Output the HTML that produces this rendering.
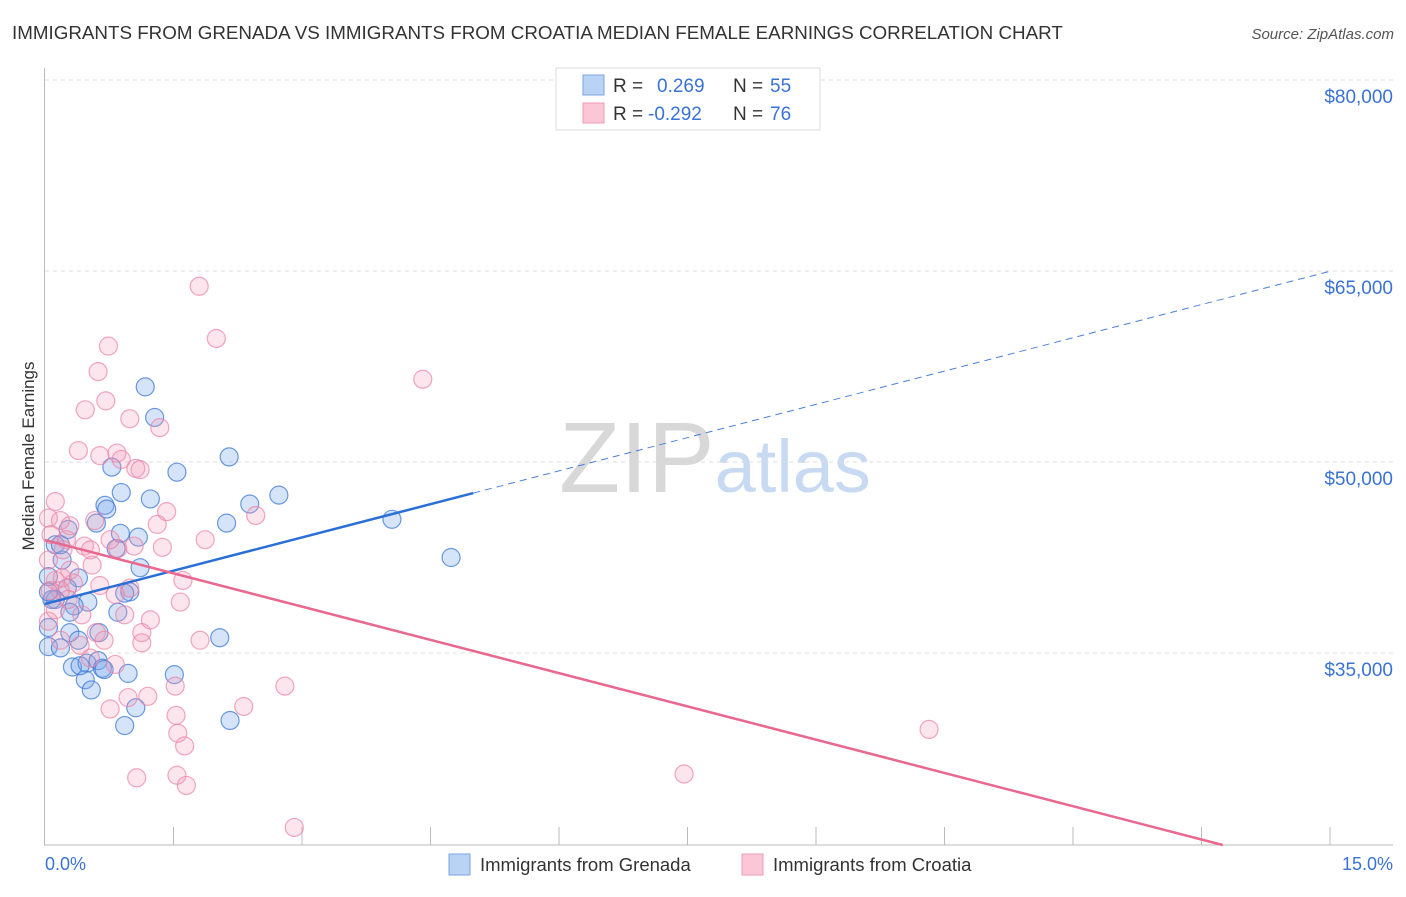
<!DOCTYPE html>
<html><head><meta charset="utf-8"><style>
body{margin:0;background:#fff;font-family:"Liberation Sans",sans-serif}
svg text{font-family:"Liberation Sans",sans-serif}
</style></head><body>
<svg id="chart" width="1406" height="892" xmlns="http://www.w3.org/2000/svg">
<text x="12" y="39" font-size="18.8" fill="#333">IMMIGRANTS FROM GRENADA VS IMMIGRANTS FROM CROATIA MEDIAN FEMALE EARNINGS CORRELATION CHART</text>
<text x="1394" y="39" font-size="15" fill="#555" font-style="italic" text-anchor="end">Source: ZipAtlas.com</text>
<text x="715" y="492" font-size="100" fill="#ddd" text-anchor="middle" font-family="Liberation Serif"><tspan fill="#d8d8d8">ZIP</tspan><tspan fill="#c8daf2" font-family="Liberation Sans" font-size="74">atlas</tspan></text>
<text transform="translate(34,456) rotate(-90)" font-size="17" fill="#333" text-anchor="middle">Median Female Earnings</text>
<g id="grid"></g><g id="axes"></g><g id="pts"></g><g id="trend"></g>
<g>
<rect x="556" y="68" width="264" height="62" fill="#fff" stroke="#ddd"/>
<rect x="583" y="75" width="21" height="20" fill="#b9d3f5" stroke="#7aa5e0"/>
<rect x="583" y="103" width="21" height="20" fill="#fbc6d6" stroke="#ee9bb5"/>
<text x="613" y="92" font-size="19" fill="#333">R = </text><text x="657" y="92" font-size="19" fill="#3a72d6">0.269</text>
<text x="733" y="92" font-size="19" fill="#333">N = </text><text x="770" y="92" font-size="19" fill="#3a72d6">55</text>
<text x="613" y="120" font-size="19" fill="#333">R = </text><text x="648" y="120" font-size="19" fill="#3a72d6">-0.292</text>
<text x="733" y="120" font-size="19" fill="#333">N = </text><text x="770" y="120" font-size="19" fill="#3a72d6">76</text>
</g>
<g>
<rect x="449" y="854" width="21" height="21" fill="#b9d3f5" stroke="#7aa5e0"/>
<text x="480" y="871" font-size="18.5" fill="#333">Immigrants from Grenada</text>
<rect x="742" y="854" width="21" height="21" fill="#fbc6d6" stroke="#ee9bb5"/>
<text x="773" y="871" font-size="18.5" fill="#333">Immigrants from Croatia</text>
</g>
</svg>
<script>
const blueX=[1.17,1.28,1.54,2.15,0.78,0.89,1.23,0.70,0.72,0.60,2.39,2.73,2.12,4.05,4.74,0.88,1.09,0.83,0.27,0.12,0.20,1.11,0.39,0.04,0.26,0.99,0.93,0.12,0.50,0.34,0.85,0.29,0.04,0.29,0.63,0.39,2.04,0.04,0.18,0.32,0.49,0.62,0.67,0.69,0.97,0.47,0.54,1.51,1.06,0.93,2.16,0.18,0.08,0.04,0.41];
const blueY=[55900,53500,49200,50400,49600,47600,47100,46600,46300,45200,46700,47400,45200,45500,42500,44400,44100,43200,44700,43500,42300,41700,40900,41000,40100,39800,39700,39200,39000,38700,38200,38200,37000,36600,36600,36000,36200,35500,35400,33900,34200,34400,33800,33700,33400,32900,32100,33300,30700,29300,29700,43500,39200,39800,34000];
const pinkX=[1.80,2.00,0.74,4.41,0.62,0.47,0.71,0.99,1.34,0.39,0.64,0.84,0.89,1.06,1.11,0.12,1.42,2.46,0.04,0.18,0.29,0.58,1.31,0.07,0.25,0.46,0.21,1.87,0.85,1.37,1.04,0.53,0.04,0.55,0.12,0.33,1.61,0.64,0.99,0.18,0.82,1.58,0.43,0.93,0.04,0.60,1.13,1.13,0.41,1.81,0.69,0.20,0.27,0.06,2.80,0.97,1.20,1.52,2.32,0.76,1.53,1.55,1.63,10.32,7.46,1.54,1.07,1.65,2.91,0.53,0.29,0.12,0.18,0.82,1.23,0.76];
const pinkY=[63800,59700,59100,56500,57100,54100,54800,53400,52700,50900,50500,50700,50200,49500,49400,46900,46100,45800,45600,45400,45000,45400,45100,44300,43900,43400,43100,43900,43200,43300,43400,43100,42300,41900,40700,40500,40700,40300,40100,39900,39600,39000,38000,38000,37500,36600,36600,35800,35600,36000,36000,40900,39200,39900,32400,31500,31600,32400,30800,30600,30100,28700,27700,29000,25500,25400,25200,24600,21300,34600,41500,38400,36000,34100,37600,43900];
const yTicks=[35000,50000,65000,80000];
const yTickLabels=["$35,000","$50,000","$65,000","$80,000"];
const xTicks=[0,1.5,3,4.5,6,7.5,9,10.5,12,13.5,15];
const blueTrend=[38850,1742];   // intercept, slope per %
const pinkTrend=[43870,-1742];
const NS="http://www.w3.org/2000/svg";
const xs=v=>45+v*(1285/15);
const ys=v=>653-(v-35000)*(191/15000);
const yBottom=845, yMinVal=35000-(yBottom-653)*15000/191;
function mk(tag,attrs,parent){const e=document.createElementNS(NS,tag);for(const k in attrs)e.setAttribute(k,attrs[k]);parent.appendChild(e);return e;}
const grid=document.getElementById('grid'),axes=document.getElementById('axes'),pts=document.getElementById('pts'),trend=document.getElementById('trend');
yTicks.forEach((t,i)=>{
 const l=mk('line',{x1:45,x2:1393,y1:ys(t),y2:ys(t),stroke:'#ddd','stroke-dasharray':'4,4'},grid);
 
 
 const tx=mk('text',{x:1393,y:ys(t)+23,'font-size':19,fill:'#3a72d6','text-anchor':'end'},grid);
 tx.textContent=yTickLabels[i];
 
 
});
const ya=mk('line',{x1:44.5,x2:44.5,y1:68,y2:yBottom,stroke:'#bbb'},axes);


const xa=mk('line',{x1:44,x2:1393,y1:yBottom,y2:yBottom,stroke:'#bbb'},axes);


xTicks.forEach((t,i)=>{if(i===0)return;
 const l=mk('line',{x1:xs(t),x2:xs(t),y1:yBottom-18,y2:yBottom,stroke:'#bbb'},axes);
 
 
});
const xl0=mk('text',{x:45,y:870,'font-size':18,fill:'#3a72d6'},axes);xl0.textContent=xTicks[0].toFixed(1)+'%';


const xl1=mk('text',{x:1393,y:870,'font-size':18,fill:'#3a72d6','text-anchor':'end'},axes);xl1.textContent=xTicks[xTicks.length-1].toFixed(1)+'%';


blueX.forEach((x,i)=>{
 const c=mk('circle',{cx:xs(x),cy:ys(blueY[i]),r:9,fill:'rgba(120,165,235,0.3)',stroke:'rgba(60,120,215,0.75)','stroke-width':1.2},pts);
 
 
});
pinkX.forEach((x,i)=>{
 const c=mk('circle',{cx:xs(x),cy:ys(pinkY[i]),r:9,fill:'rgba(245,150,180,0.25)',stroke:'rgba(235,130,165,0.7)','stroke-width':1.2},pts);
 
 
});
const bx1=Math.max(...blueX)+0.26;
const b1=mk('line',{x1:xs(0),y1:ys(blueTrend[0]),x2:xs(bx1),y2:ys(blueTrend[0]+blueTrend[1]*bx1),stroke:'#2a6fd6','stroke-width':2.5},trend);


const b2=mk('line',{x1:xs(bx1),y1:ys(blueTrend[0]+blueTrend[1]*bx1),x2:xs(15),y2:ys(blueTrend[0]+blueTrend[1]*15),stroke:'#4a82d8','stroke-width':1,'stroke-dasharray':'7,5'},trend);


let px2=15;if(pinkTrend[0]+pinkTrend[1]*15<yMinVal)px2=(yMinVal-pinkTrend[0])/pinkTrend[1];
const p1=mk('line',{x1:xs(0),y1:ys(pinkTrend[0]),x2:xs(px2),y2:ys(pinkTrend[0]+pinkTrend[1]*px2),stroke:'#e8688f','stroke-width':2.5},trend);


</script>
</body></html>
